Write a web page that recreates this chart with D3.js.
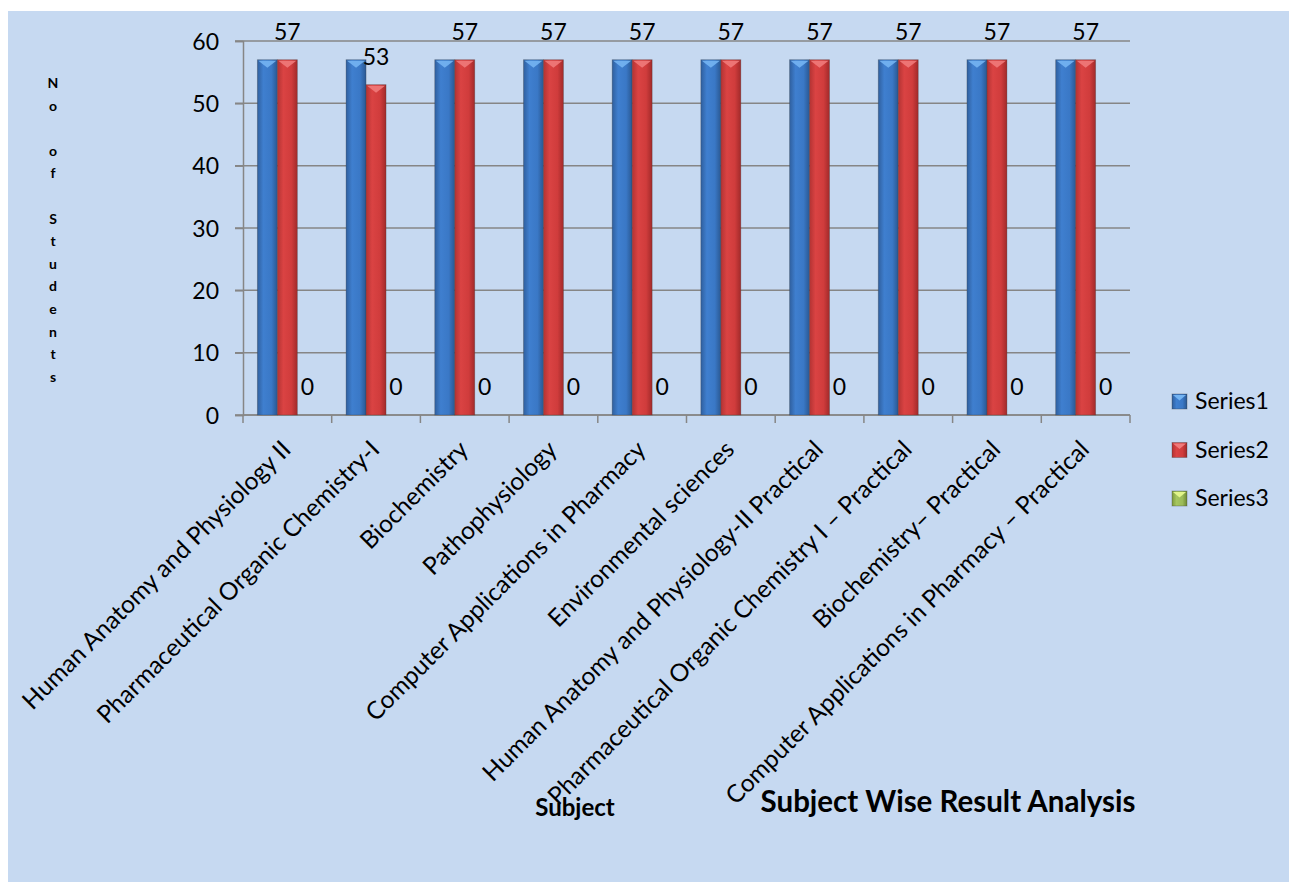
<!DOCTYPE html>
<html>
<head>
<meta charset="utf-8">
<script src="https://cdn.jsdelivr.net/npm/d3@7"></script>
<style>
  body { margin: 0; background: #ffffff; }
  text { font-family: Lato, "Open Sans", sans-serif; fill: #000; }
</style>
</head>
<body>
<script>
const categories = [
  "Human Anatomy and Physiology II",
  "Pharmaceutical Organic Chemistry-I",
  "Biochemistry",
  "Pathophysiology",
  "Computer Applications in Pharmacy",
  "Environmental sciences",
  "Human Anatomy and Physiology-II Practical",
  "Pharmaceutical Organic Chemistry I \u2013 Practical",
  "Biochemistry\u2013 Practical",
  "Computer Applications in Pharmacy \u2013 Practical"
];
const seriesNames = ["Series1", "Series2", "Series3"];
const series1 = [57, 57, 57, 57, 57, 57, 57, 57, 57, 57];
const series2 = [57, 53, 57, 57, 57, 57, 57, 57, 57, 57];
const series3 = [0, 0, 0, 0, 0, 0, 0, 0, 0, 0];
const yTicks = [0, 10, 20, 30, 40, 50, 60];
const yAxisTitle = "No of Students";

const allSeries = [series1, series2, series3];
// only Series2 and Series3 carry data labels in the original
const labelled = [false, true, true];

const svg = d3.select('body')
              .append('svg')
              .attr('width', 1289)
              .attr('height', 882);

svg.append('rect')
   .attr('x', 8).attr('y', 11)
   .attr('width', 1281).attr('height', 871)
   .style('fill', '#c6d9f1');

const defs = svg.append('defs');
const grads = [
  {id: 'g1', stops: ['#2f5f9e', '#3f7fcf', '#3a78c6', '#2a5892'], cap: '#74b4f2'},
  {id: 'g2', stops: ['#b33333', '#da4343', '#d03c3c', '#a12a2a'], cap: '#f07a7a'},
  {id: 'g3', stops: ['#7d9a3c', '#a6c65e', '#9bbb59', '#6f8a33'], cap: '#e2f58a'}
];
grads.forEach(g => {
  const lg = defs.append('linearGradient').attr('id', g.id)
                 .attr('x1', 0).attr('x2', 1).attr('y1', 0).attr('y2', 0);
  [0, 0.3, 0.7, 1].forEach((o, i) => lg.append('stop').attr('offset', o).attr('stop-color', g.stops[i]));
});

const plotLeft = 243, plotRight = 1130, plotTop = 41, plotBottom = 415;

const x0 = d3.scaleBand().domain(categories).range([plotLeft, plotRight]);
const x1 = d3.scaleBand().domain(seriesNames)
             .range([x0.bandwidth() / 2 - 30, x0.bandwidth() / 2 + 30]);
const y = d3.scaleLinear().domain([0, 60]).range([plotBottom, plotTop]);

// gridlines
svg.append('g').selectAll('line').data(yTicks).join('line')
   .attr('x1', plotLeft - 8).attr('x2', plotRight)
   .attr('y1', d => y(d)).attr('y2', d => y(d))
   .style('stroke', '#868686').style('stroke-width', 1.5);

// y axis
const yAxis = svg.append('g')
                 .attr('transform', `translate(${plotLeft},0)`)
                 .call(d3.axisLeft(y).tickValues(yTicks).tickSize(8).tickPadding(16));
yAxis.select('.domain').style('stroke', '#868686').style('stroke-width', 1.5);
yAxis.selectAll('.tick line').style('stroke', '#868686').style('stroke-width', 1.5);
yAxis.selectAll('.tick text').style('font-family', 'Lato').style('font-size', '23px').attr('dy', '0.36em');

// x axis line and ticks at category boundaries
const xEdges = categories.map(c => x0(c)).concat([plotRight]);
svg.append('line')
   .attr('x1', plotLeft).attr('x2', plotRight).attr('y1', plotBottom).attr('y2', plotBottom)
   .style('stroke', '#868686').style('stroke-width', 1.5);
svg.append('g').selectAll('line').data(xEdges).join('line')
   .attr('x1', d => d).attr('x2', d => d)
   .attr('y1', plotBottom).attr('y2', plotBottom + 8)
   .style('stroke', '#868686').style('stroke-width', 1.5);

// bars
const groups = svg.append('g').selectAll('g').data(categories).join('g')
                  .attr('transform', d => `translate(${x0(d)},0)`);
allSeries.forEach((vals, si) => {
  const bw = x1.bandwidth();
  const xs = x1(seriesNames[si]);
  groups.append('rect')
        .attr('x', xs)
        .attr('y', (d, i) => y(vals[i]))
        .attr('width', bw)
        .attr('height', (d, i) => plotBottom - y(vals[i]))
        .style('fill', `url(#${grads[si].id})`)
        .style('stroke', 'rgba(60,60,60,0.35)').style('stroke-width', 0.8);
  groups.append('path')
        .attr('d', (d, i) => {
          const t = y(vals[i]);
          return vals[i] > 0 ? `M${xs + 1},${t + 1}L${xs + bw - 1},${t + 1}L${xs + bw / 2},${t + 8}Z` : '';
        })
        .style('fill', grads[si].cap).style('opacity', 0.9);
  if (labelled[si]) {
    groups.append('text')
          .attr('x', xs + bw / 2)
          .attr('y', (d, i) => y(vals[i]) - 20)
          .attr('text-anchor', 'middle')
          .style('font-size', '23px')
          .text((d, i) => vals[i]);
  }
});

// category labels
svg.append('g').selectAll('text').data(categories).join('text')
   .attr('transform', d => `translate(${x0(d) + x0.bandwidth() / 2 + 5},451) rotate(-45)`)
   .attr('text-anchor', 'end')
   .style('font-size', '24.5px')
   .text(d => d);

// y axis title, one letter per line
const letters = yAxisTitle.split('');
svg.append('g').selectAll('text').data(letters).join('text')
   .attr('x', 53).attr('y', (d, i) => 88 + i * 22.6)
   .attr('text-anchor', 'middle')
   .style('font-size', '14px').style('font-weight', 'bold')
   .text(d => d);

// axis title and chart title
svg.append('text').attr('x', 575).attr('y', 816).attr('text-anchor', 'middle')
   .style('font-size', '24px').style('font-weight', 'bold').text('Subject');
svg.append('text').attr('x', 948).attr('y', 812).attr('text-anchor', 'middle')
   .style('font-size', '29.5px').style('font-weight', 'bold').text('Subject Wise Result Analysis');

// legend
const legend = svg.append('g').selectAll('g').data(seriesNames).join('g')
                  .attr('transform', (d, i) => `translate(1172,${394 + i * 48.5})`);
legend.append('rect').attr('width', 15).attr('height', 15)
      .style('fill', (d, i) => `url(#${grads[i].id})`)
      .style('stroke', 'rgba(60,60,60,0.4)').style('stroke-width', 0.8);
legend.append('path').attr('d', 'M1,1L14,1L7.5,6.5Z')
      .style('fill', (d, i) => grads[i].cap);
legend.append('text').attr('x', 23).attr('y', 15)
      .style('font-size', '23px').text(d => d);
</script>
</body>
</html>
